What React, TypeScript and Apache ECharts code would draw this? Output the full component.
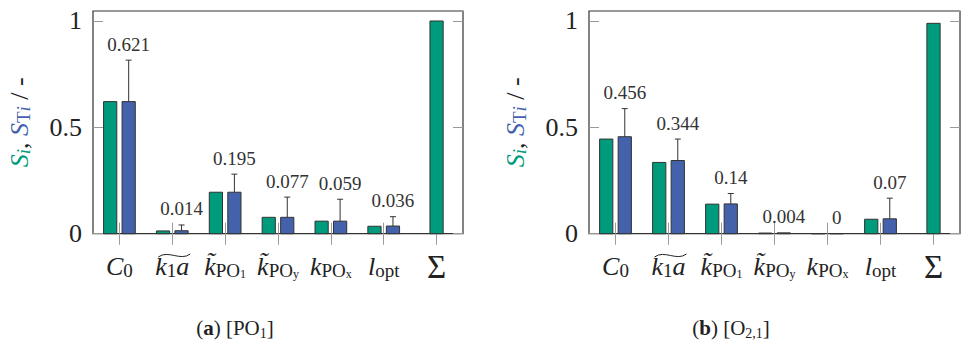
import React, { useEffect, useRef } from 'react';
import * as echarts from 'echarts';

const categories = ['C0', 'k1a', 'kPO1', 'kPOy', 'kPOx', 'lopt', 'sum'];
const siA = [0.621, 0.013, 0.195, 0.077, 0.059, 0.035, 1.0];
const stiA: (number | null)[] = [0.621, 0.014, 0.195, 0.077, 0.059, 0.036, null];
const errA: (number | null)[] = [0.816, 0.041, 0.28, 0.172, 0.162, 0.08, null];
const siB = [0.445, 0.335, 0.139, 0.003, 0, 0.068, 0.989];
const stiB: (number | null)[] = [0.456, 0.344, 0.14, 0.004, 0, 0.07, null];
const errB: (number | null)[] = [0.588, 0.445, 0.189, null, null, 0.167, null];
const yTickLabels = ['0', '0.5', '1'];

const GREEN = '#009a7c';
const BLUE = '#4462ac';
const EDGE = '#333333';
const TICK = '#9a9a9a';
const SERIF = 'Liberation Serif';

const catRich: Record<string, string> = {
  C0: '{it|C}{sub|0}',
  k1a: '{it|k}{sub|1}{it|a}',
  kPO1: '{it|k\u0303}{sub|PO}{ss|1}',
  kPOy: '{it|k\u0303}{sub|PO}{ss|y}',
  kPOx: '{it|k}{sub|PO}{ss|x}',
  lopt: '{it|l}{sub|opt}',
  sum: '{sum|Σ}',
};

const catRichStyles = {
  it: { fontSize: 26, lineHeight: 26, fontStyle: 'italic', fontFamily: SERIF, color: '#222' },
  sub: { fontSize: 19, lineHeight: 17, verticalAlign: 'bottom', fontFamily: SERIF, color: '#222' },
  ss: { fontSize: 12, lineHeight: 7, verticalAlign: 'bottom', fontFamily: SERIF, color: '#222' },
  sum: { fontSize: 33, lineHeight: 26, fontFamily: SERIF, color: '#222' },
};

const nameRich = {
  g: { fontSize: 26, fontStyle: 'italic', color: GREEN, fontFamily: SERIF, lineHeight: 28 },
  gs: { fontSize: 19, fontStyle: 'italic', color: GREEN, fontFamily: SERIF, lineHeight: 19, verticalAlign: 'bottom' },
  b: { fontSize: 26, fontStyle: 'italic', color: BLUE, fontFamily: SERIF, lineHeight: 28 },
  bsu: { fontSize: 19, color: BLUE, fontFamily: SERIF, lineHeight: 19, verticalAlign: 'bottom' },
  bs: { fontSize: 19, fontStyle: 'italic', color: BLUE, fontFamily: SERIF, lineHeight: 19, verticalAlign: 'bottom' },
  k: { fontSize: 26, color: '#222', fontFamily: SERIF, lineHeight: 28 },
};
const nameText = '{g|S}{gs|i}{k|, }{b|S}{bsu|T}{bs|i}{k| / -}';

function renderItem(params: any, api: any) {
  const i = api.value(0);
  const si = api.value(1);
  const st = api.value(2);
  const er = api.value(3);
  const base = api.coord([i, 0]);
  const band = api.size([1, 0])[0];
  const bw = band * 0.25;
  const off = band * 0.175;
  const children: any[] = [];
  const single = st == null || isNaN(st);
  const gx = single ? base[0] : base[0] - off;
  const gTop = api.coord([i, si])[1];
  children.push({
    type: 'rect',
    shape: { x: gx - bw / 2, y: gTop, width: bw, height: base[1] - gTop },
    style: { fill: GREEN, stroke: EDGE, lineWidth: 1 },
  });
  if (!single) {
    const bx = base[0] + off;
    const bTop = api.coord([i, st])[1];
    children.push({
      type: 'rect',
      shape: { x: bx - bw / 2, y: bTop, width: bw, height: base[1] - bTop },
      style: { fill: BLUE, stroke: EDGE, lineWidth: 1 },
    });
    let top = bTop;
    if (er != null && !isNaN(er) && er > st) {
      const eTop = api.coord([i, er])[1];
      children.push({ type: 'line', shape: { x1: bx, y1: bTop, x2: bx, y2: eTop }, style: { stroke: EDGE, lineWidth: 1 } });
      children.push({ type: 'line', shape: { x1: bx - 3, y1: eTop, x2: bx + 3, y2: eTop }, style: { stroke: EDGE, lineWidth: 1 } });
      top = eTop;
    }
    children.push({
      type: 'text',
      style: {
        text: String(st),
        x: bx,
        y: top - 16,
        align: 'center',
        verticalAlign: 'middle',
        fill: '#333',
        fontSize: 19,
        fontFamily: SERIF,
      },
    });
  }
  return { type: 'group', children };
}

function makeData(si: number[], st: (number | null)[], er: (number | null)[]) {
  return si.map((v, i) => [i, v, st[i], er[i]]);
}

const captionRich = {
  n: { fontSize: 21, fontFamily: SERIF, fill: '#222', lineHeight: 24 },
  b: { fontSize: 21, fontWeight: 'bold', fontFamily: SERIF, fill: '#222', lineHeight: 24 },
  s: { fontSize: 14, fontFamily: SERIF, fill: '#222', lineHeight: 14, verticalAlign: 'bottom' },
};

export default function App() {
  const ref = useRef<HTMLDivElement>(null);
  useEffect(() => {
    const chart = echarts.init(ref.current!, null, { renderer: 'svg' });
    const grids = [
      { left: 93, top: 11, width: 370, height: 222.7 },
      { left: 589, top: 11, width: 371, height: 222.7 },
    ];
    const xAxes: any[] = [];
    const yAxes: any[] = [];
    grids.forEach((_, gi) => {
      xAxes.push({
        type: 'category',
        gridIndex: gi,
        data: categories,
        position: 'bottom',
        axisLine: { show: false },
        axisTick: { show: true, alignWithLabel: true, length: 11, lineStyle: { color: TICK } },
        axisLabel: {
          margin: 20,
          interval: 0,
          formatter: (v: string) => catRich[v],
          rich: catRichStyles,
        },
      });
      xAxes.push({
        type: 'category',
        gridIndex: gi,
        data: categories,
        position: 'top',
        axisLine: { show: false },
        axisTick: { show: true, alignWithLabel: true, length: 11, lineStyle: { color: TICK } },
        axisLabel: { show: false },
      });
      yAxes.push({
        type: 'value',
        gridIndex: gi,
        min: 0,
        max: 1.047,
        interval: 0.5,
        position: 'left',
        name: nameText,
        nameLocation: 'middle',
        nameGap: 60,
        nameTextStyle: { rich: nameRich },
        axisLine: { show: false },
        splitLine: { show: false },
        axisTick: { show: true, inside: true, length: 10, lineStyle: { color: TICK } },
        axisLabel: {
          showMaxLabel: false,
          margin: 11,
          fontSize: 26,
          fontFamily: SERIF,
          color: '#222',
          formatter: (v: number) => {
            const idx = Math.round(v / 0.5);
            return Math.abs(v - idx * 0.5) < 1e-6 ? yTickLabels[idx] ?? '' : '';
          },
        },
      });
      yAxes.push({
        type: 'value',
        gridIndex: gi,
        min: 0,
        max: 1.047,
        interval: 0.5,
        position: 'right',
        axisLine: { show: false },
        splitLine: { show: false },
        axisTick: { show: true, inside: true, length: 10, lineStyle: { color: TICK } },
        axisLabel: { show: false },
      });
    });
    chart.setOption({
      animation: false,
      grid: grids.map((g) => ({ ...g, show: true, borderColor: EDGE, borderWidth: 1.2, backgroundColor: 'transparent' })),
      xAxis: xAxes,
      yAxis: yAxes,
      series: [
        {
          type: 'custom',
          xAxisIndex: 0,
          yAxisIndex: 0,
          renderItem,
          encode: { x: 0, y: 1 },
          data: makeData(siA, stiA, errA),
          clip: false,
        },
        {
          type: 'custom',
          xAxisIndex: 2,
          yAxisIndex: 2,
          renderItem,
          encode: { x: 0, y: 1 },
          data: makeData(siB, stiB, errB),
          clip: false,
        },
      ],
    });
    // wide tilde over k1a, positioned from the category axis
    const tildes: any[] = [];
    [0, 2].forEach((xi) => {
      const cx = (chart.convertToPixel({ xAxisIndex: xi }, 'k1a') as unknown as number) + 2;
      const y = 255.5;
      tildes.push({
        type: 'bezierCurve',
        shape: { x1: cx - 16, y1: y + 1.5, cpx1: cx - 6, cpy1: y - 6, cpx2: cx + 6, cpy2: y + 6, x2: cx + 16, y2: y - 1.5 },
        style: { stroke: '#222', lineWidth: 1, fill: null },
      });
    });
    chart.setOption({
      graphic: [
        ...tildes,
        {
          type: 'text',
          x: 235,
          y: 328,
          style: { text: '{n|(}{b|a}{n|) [PO}{s|1}{n|]}', align: 'center', verticalAlign: 'middle', rich: captionRich },
        },
        {
          type: 'text',
          x: 731,
          y: 328,
          style: { text: '{n|(}{b|b}{n|) [O}{s|2,1}{n|]}', align: 'center', verticalAlign: 'middle', rich: captionRich },
        },
      ],
    });
    return () => chart.dispose();
  }, []);
  return <div ref={ref} style={{ position: 'fixed', left: 0, top: 0, width: 962, height: 342, background: '#fff' }} />;
}
